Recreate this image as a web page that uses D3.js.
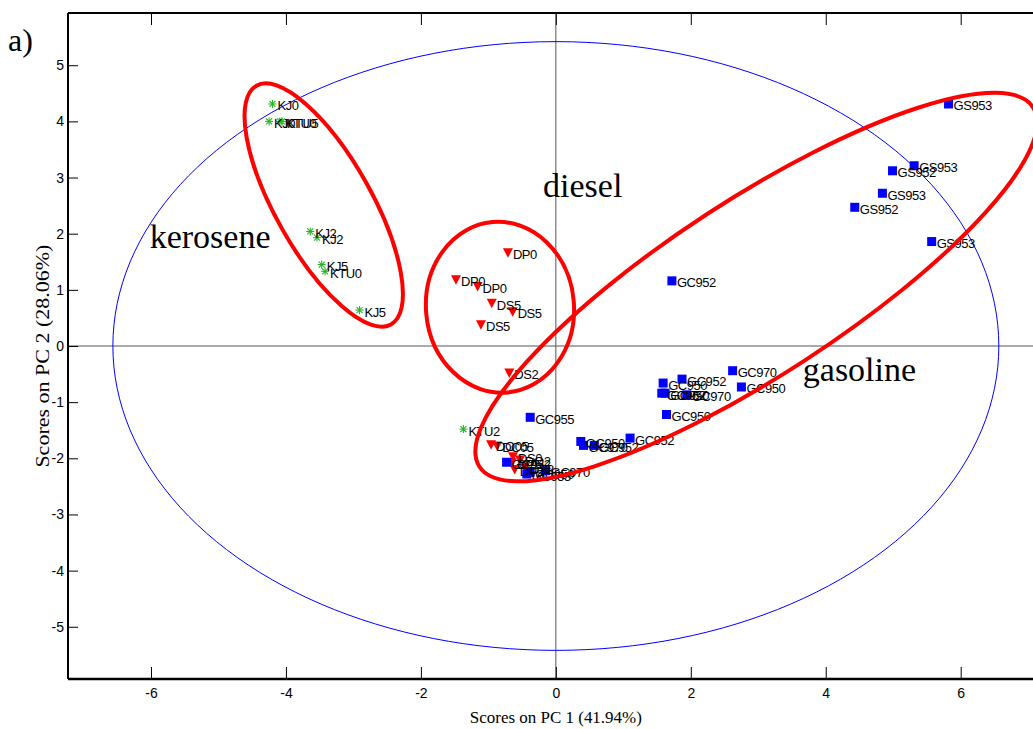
<!DOCTYPE html>
<html>
<head>
<meta charset="utf-8">
<script src="https://cdn.jsdelivr.net/npm/d3@7"></script>
<style>
  html, body { margin: 0; padding: 0; background: #fff; }
  svg { display: block; }
</style>
</head>
<body>
<svg id="chart" width="1033" height="729"></svg>
<script>
// ---------------- data ----------------
const xTicks = [-6, -4, -2, 0, 2, 4, 6];
const yTicks = [-5, -4, -3, -2, -1, 0, 1, 2, 3, 4, 5];

const keroseneX = [-4.20, -4.25, -4.09, -4.06, -3.64, -3.54, -3.47, -3.42, -2.91, -1.37];
const keroseneY = [4.31, 4.00, 4.00, 4.00, 2.04, 1.93, 1.45, 1.33, 0.64, -1.48];
const keroseneLabels = ["KJ0", "KJ0", "KTU0", "KTU5", "KJ2", "KJ2", "KJ5", "KTU0", "KJ5", "KTU2"];

const dieselX = [-0.71, -1.48, -1.16, -0.95, -0.64, -1.11, -0.69, -0.96, -0.87, -0.635, -0.65, -0.61, -0.53, -0.46];
const dieselY = [1.66, 1.18, 1.06, 0.76, 0.61, 0.38, -0.48, -1.76, -1.78, -1.97, -2.08, -2.20, -2.03, -2.17];
const dieselLabels = ["DP0", "DP0", "DP0", "DS5", "DS5", "DS5", "DS2", "DO05", "DC05", "DS0", "DP5", "DP2", "DO2", "DS2"];

const gasolineX = [-0.38, 0.37, 0.41, 0.57, 1.10, 1.64, 1.87, 1.59, 1.57, 1.62, 1.94, 2.62, 2.75, 1.72,
                   5.82, 5.31, 4.99, 4.84, 4.43, 5.57, -0.73, -0.43, -0.15, -0.38];
const gasolineY = [-1.27, -1.70, -1.77, -1.77, -1.64, -1.22, -0.59, -0.66, -0.84, -0.84, -0.87, -0.44, -0.73, 1.16,
                   4.31, 3.21, 3.12, 2.72, 2.47, 1.86, -2.07, -2.28, -2.22, -2.25];
const gasolineLabels = ["GC955", "GC950", "GC970", "GC952", "GC952", "GC950", "GC952", "GC950", "GC952", "GC950", "GC970", "GC970", "GC950", "GC952",
                        "GS953", "GS953", "GS952", "GS953", "GS952", "GS953", "GC952", "GC955", "GC970", "GC950"];

// 95% confidence ellipse semi-axes (data units)
const confRadii = [6.565, 5.42];

// hand-drawn group outlines: centre (data units)
const groupNames = ["kerosene", "diesel", "gasoline"];
const groupCx = [-3.44, -0.828, 2.97];
const groupCy = [2.51, 0.69, 1.05];
// group text anchors (data units)
const groupTextX = [-6.02, -0.19, 3.66];
const groupTextY = [1.75, 2.66, -0.62];

// ---------------- drawing ----------------
const svg = d3.select("#chart");
const padL = 68, padT = 13, padB = 679;
const x = d3.scaleLinear().domain([-7.23, 7.3]).range([padL, padL + 14.53 * 67.475]);
const y = d3.scaleLinear().domain([-5.93, 5.93]).range([padB, padT]);
const padR = x(7.3);

const sans = "'Liberation Sans', Arial, Helvetica, sans-serif";
const serif = "'Liberation Serif', 'Times New Roman', Times, serif";
const fmt = d => String(d);

// crosshair
svg.append("line").attr("x1", padL).attr("x2", padR).attr("y1", y(0)).attr("y2", y(0))
  .attr("stroke", "#555").attr("stroke-width", 1);
svg.append("line").attr("x1", x(0)).attr("x2", x(0)).attr("y1", padT).attr("y2", padB)
  .attr("stroke", "#555").attr("stroke-width", 1);

// confidence ellipse
const tt = d3.range(0, 361, 2).map(d => d * Math.PI / 180);
svg.append("path")
  .datum(tt)
  .attr("d", d3.line().x(t => x(confRadii[0] * Math.cos(t))).y(t => y(confRadii[1] * Math.sin(t))))
  .attr("fill", "none").attr("stroke", "#0000ff").attr("stroke-width", 1);

// axes frame
svg.append("line").attr("x1", padL).attr("x2", padR).attr("y1", padT).attr("y2", padT).attr("stroke", "#000").attr("stroke-width", 2);
svg.append("line").attr("x1", padL).attr("x2", padR).attr("y1", padB).attr("y2", padB).attr("stroke", "#000").attr("stroke-width", 2.6);
svg.append("line").attr("x1", padL).attr("x2", padL).attr("y1", padT).attr("y2", padB).attr("stroke", "#000").attr("stroke-width", 2);

// x ticks (bottom and top, inward)
const xAxisB = d3.axisBottom(x).tickValues(xTicks).tickSizeInner(-12).tickSizeOuter(0).tickPadding(9).tickFormat(fmt);
const gxb = svg.append("g").attr("transform", `translate(0,${padB})`).call(xAxisB);
gxb.select(".domain").remove();
gxb.selectAll("text").attr("font-family", sans).attr("font-size", 14).attr("fill", "#000");
gxb.selectAll("line").attr("stroke", "#000");

const xAxisT = d3.axisTop(x).tickValues(xTicks).tickSizeInner(-12).tickSizeOuter(0).tickFormat("");
const gxt = svg.append("g").attr("transform", `translate(0,${padT})`).call(xAxisT);
gxt.select(".domain").remove();
gxt.selectAll("line").attr("stroke", "#000");

// y ticks (left, inward)
const yAxis = d3.axisLeft(y).tickValues(yTicks).tickSizeInner(-10).tickSizeOuter(0).tickPadding(4).tickFormat(fmt);
const gy = svg.append("g").attr("transform", `translate(${padL},0)`).call(yAxis);
gy.select(".domain").remove();
gy.selectAll("text").attr("font-family", sans).attr("font-size", 14).attr("fill", "#000");
gy.selectAll("line").attr("stroke", "#000");

// axis titles
svg.append("text").attr("x", x(0)).attr("y", 723).attr("text-anchor", "middle")
  .attr("font-family", serif).attr("font-size", 17).attr("textLength", 172).attr("lengthAdjust", "spacingAndGlyphs")
  .text("Scores on PC 1 (41.94%)");
svg.append("text").attr("transform", `translate(49,${y(-0.18)}) rotate(-90)`).attr("text-anchor", "middle")
  .attr("font-family", serif).attr("font-size", 18).attr("textLength", 223).attr("lengthAdjust", "spacingAndGlyphs")
  .text("Scores on PC 2 (28.06%)");

// panel label
svg.append("text").attr("x", 8).attr("y", 51).attr("font-family", serif).attr("font-size", 32).text("a)");

// labels
function labelsFor(xs, ys, labs) {
  svg.append("g").selectAll("text").data(xs).join("text")
    .attr("x", (d) => x(d) + 5)
    .attr("y", (d, i) => y(ys[i]) + 6.5)
    .attr("font-family", sans).attr("font-size", 13).attr("letter-spacing", "-0.45")
    .attr("fill", "#000")
    .text((d, i) => labs[i]);
}

// kerosene: asterisks
const kg = svg.append("g");
keroseneX.forEach((d, i) => {
  const r = 4;
  const g = kg.append("g").attr("transform", `translate(${x(d)},${y(keroseneY[i])})`)
    .attr("stroke", "#22b822").attr("stroke-width", 1.1);
  g.append("line").attr("x1", -r).attr("x2", r).attr("y1", 0).attr("y2", 0);
  g.append("line").attr("x1", 0).attr("x2", 0).attr("y1", -r).attr("y2", r);
  g.append("line").attr("x1", -r * 0.75).attr("x2", r * 0.75).attr("y1", -r * 0.75).attr("y2", r * 0.75);
  g.append("line").attr("x1", -r * 0.75).attr("x2", r * 0.75).attr("y1", r * 0.75).attr("y2", -r * 0.75);
});

// diesel: down triangles
svg.append("g").selectAll("path").data(dieselX).join("path")
  .attr("d", (d, i) => {
    const cx = x(d), cy = y(dieselY[i]);
    return `M${cx - 5},${cy - 4.5}L${cx + 5},${cy - 4.5}L${cx},${cy + 5}Z`;
  })
  .attr("fill", "#ff0000");

// gasoline: squares
svg.append("g").selectAll("rect").data(gasolineX).join("rect")
  .attr("x", d => x(d) - 4.5)
  .attr("y", (d, i) => y(gasolineY[i]) - 4.5)
  .attr("width", 9).attr("height", 9)
  .attr("fill", "#0000ff");

labelsFor(keroseneX, keroseneY, keroseneLabels);
labelsFor(dieselX, dieselY, dieselLabels);
labelsFor(gasolineX, gasolineY, gasolineLabels);

// group outlines (hand-drawn red ellipses): [rx px, ry px, rotation deg]
const outlineShape = [[137, 48, 60.6], [74, 85.5, -5], [330, 88, -33]];
groupCx.forEach((cx, i) => {
  const s = outlineShape[i];
  svg.append("ellipse")
    .attr("transform", `translate(${x(cx)},${y(groupCy[i])}) rotate(${s[2]})`)
    .attr("rx", s[0]).attr("ry", s[1])
    .attr("fill", "none").attr("stroke", "#ff0000").attr("stroke-width", 4);
});

// group names
svg.append("g").selectAll("text").data(groupNames).join("text")
  .attr("x", (d, i) => x(groupTextX[i]))
  .attr("y", (d, i) => y(groupTextY[i]))
  .attr("font-family", serif).attr("font-size", 34).attr("fill", "#000")
  .text(d => d);
</script>
</body>
</html>
